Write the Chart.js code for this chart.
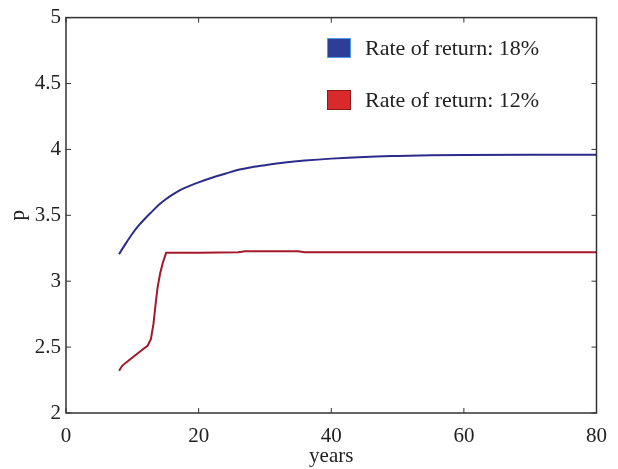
<!DOCTYPE html>
<html>
<head>
<meta charset="utf-8">
<script src="https://cdn.jsdelivr.net/npm/chart.js@4.4.1/dist/chart.umd.min.js"></script>
<style>
  html, body { margin: 0; padding: 0; background: #fff; }
  #wrap { width: 618px; height: 469px; }
</style>
</head>
<body>
<div id="wrap"><canvas id="grafico"></canvas></div>
<script>
// datos
const years18 = [8, 9, 10, 11, 12, 13, 14, 15, 16, 17, 18, 20, 22, 24, 26, 28, 30, 33, 36, 40, 45, 50, 55, 60, 70, 80];
const rate18 = [3.205, 3.285, 3.36, 3.425, 3.48, 3.53, 3.58, 3.62, 3.655, 3.685, 3.71, 3.75, 3.785, 3.815, 3.845, 3.865, 3.88, 3.9, 3.915, 3.93, 3.943, 3.95, 3.955, 3.958, 3.96, 3.96];
const years12 = [8, 8.5, 9.5, 10.5, 11.5, 12.3, 12.8, 13.2, 13.5, 13.8, 14.2, 14.6, 15.1, 20, 26, 27, 35, 36, 80];
const rate12 = [2.32, 2.36, 2.40, 2.44, 2.48, 2.51, 2.56, 2.68, 2.82, 2.95, 3.06, 3.14, 3.215, 3.215, 3.22, 3.228, 3.228, 3.22, 3.22];
const xTicks = [0, 20, 40, 60, 80];
const yTicks = [2, 2.5, 3, 3.5, 4, 4.5, 5];
const etiquetas = ['Rate of return: 18%', 'Rate of return: 12%'];

const fuente = 'Liberation Serif, Times New Roman, serif';

// marco y marcas hacia dentro
const marco = {
    id: 'marco',
    afterDatasetsDraw(chart) {
        const { ctx, chartArea: a, scales } = chart;
        ctx.save();
        ctx.strokeStyle = '#333';
        ctx.lineWidth = 1.5;
        ctx.strokeRect(a.left, a.top, a.right - a.left, a.bottom - a.top);
        ctx.lineWidth = 1;
        xTicks.forEach(v => {
            const px = scales.x.getPixelForValue(v);
            ctx.beginPath();
            ctx.moveTo(px, a.bottom); ctx.lineTo(px, a.bottom - 5);
            ctx.moveTo(px, a.top); ctx.lineTo(px, a.top + 5);
            ctx.stroke();
        });
        yTicks.forEach(v => {
            const py = scales.y.getPixelForValue(v);
            ctx.beginPath();
            ctx.moveTo(a.left, py); ctx.lineTo(a.left + 5, py);
            ctx.moveTo(a.right, py); ctx.lineTo(a.right - 5, py);
            ctx.stroke();
        });
        ctx.restore();
    }
};

// leyenda dentro del area
const leyenda = {
    id: 'leyenda',
    afterDraw(chart) {
        const { ctx } = chart;
        const cajas = [
            { fill: '#2e3d98', borde: '#4fa0e0', y: 38 },
            { fill: '#d8292b', borde: '#8a1a1a', y: 90 }
        ];
        ctx.save();
        ctx.font = '22px ' + fuente;
        ctx.textBaseline = 'middle';
        cajas.forEach((c, i) => {
            ctx.fillStyle = c.fill;
            ctx.fillRect(327, c.y, 24, 20);
            ctx.strokeStyle = c.borde;
            ctx.lineWidth = 1;
            ctx.strokeRect(327.5, c.y + 0.5, 23, 19);
            ctx.fillStyle = '#222';
            ctx.fillText(etiquetas[i], 365, c.y + 11);
        });
        ctx.restore();
    }
};

const ctx = document.getElementById('grafico').getContext('2d');
new Chart(ctx, {
    type: 'line',
    data: {
        datasets: [{
            label: etiquetas[0],
            data: years18.map((x, i) => ({ x: x, y: rate18[i] })),
            borderColor: '#2b2b8c',
            borderWidth: 2,
            pointRadius: 0,
            cubicInterpolationMode: 'monotone'
        }, {
            label: etiquetas[1],
            data: years12.map((x, i) => ({ x: x, y: rate12[i] })),
            borderColor: '#a3182a',
            borderWidth: 2,
            pointRadius: 0,
            tension: 0
        }]
    },
    options: {
        responsive: true,
        maintainAspectRatio: false,
        animation: false,
        layout: { padding: { top: 14, right: 21, left: 0, bottom: 0 } },
        plugins: {
            legend: { display: false },
            tooltip: { enabled: false }
        },
        scales: {
            x: {
                type: 'linear',
                min: 0, max: 80,
                afterBuildTicks: s => { s.ticks = xTicks.map(v => ({ value: v })); },
                afterFit: s => { s.height = 56; },
                grid: { display: false, drawTicks: false },
                border: { display: false },
                ticks: { color: '#222', font: { family: fuente, size: 21 }, padding: 11, maxRotation: 0 },
                title: { display: true, text: 'years', color: '#222', font: { family: fuente, size: 21 }, padding: 0 }
            },
            y: {
                min: 2, max: 5,
                afterBuildTicks: s => { s.ticks = yTicks.map(v => ({ value: v })); },
                afterFit: s => { s.width = 66; },
                grid: { display: false, drawTicks: false },
                border: { display: false },
                ticks: { color: '#222', font: { family: fuente, size: 21 }, padding: 5, callback: v => String(v) },
                title: { display: true, text: 'p', color: '#222', font: { family: fuente, size: 21 }, padding: { top: 6, bottom: 0 } }
            }
        }
    },
    plugins: [marco, leyenda]
});
</script>
</body>
</html>
